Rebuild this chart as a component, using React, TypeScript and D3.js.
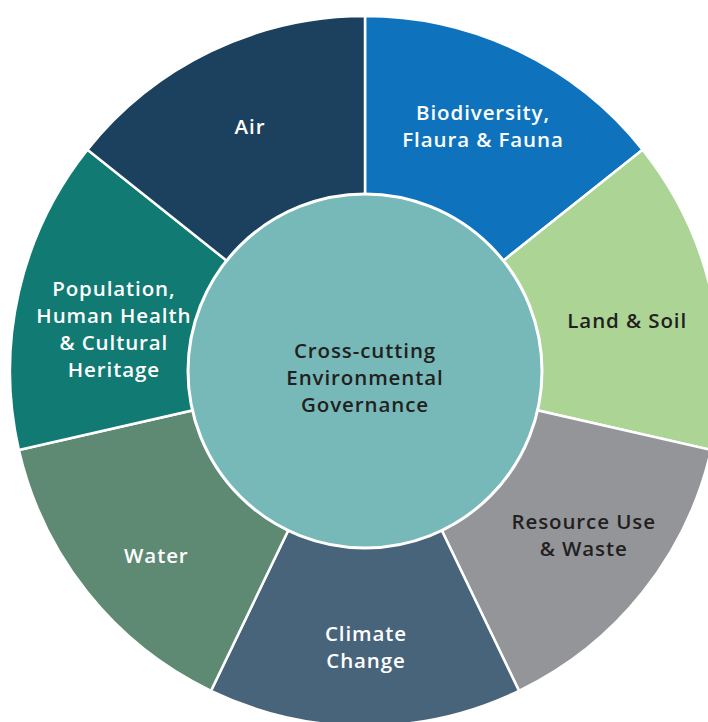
import * as d3 from "d3";

const categories = [
  "Biodiversity,\nFlaura & Fauna",
  "Land & Soil",
  "Resource Use\n& Waste",
  "Climate\nChange",
  "Water",
  "Population,\nHuman Health\n& Cultural\nHeritage",
  "Air",
];
const shares = [1, 1, 1, 1, 1, 1, 1];
const fills = ["#0e73bc", "#acd595", "#939598", "#48647b", "#5e8a74", "#117a73", "#1c415e"];
const textColors = ["#ffffff", "#231f20", "#231f20", "#ffffff", "#ffffff", "#ffffff", "#ffffff"];
const centerLabel = "Cross-cutting\nEnvironmental\nGovernance";

const W = 708;
const H = 722;
const cx = 365;
const cy = 371;
const outerR = 355;
const innerR = 177;
const labelR = 272;
const lineH = 27;
const font = "'Open Sans', sans-serif";
// small hand nudges so labels sit where the original artwork put them
const labelNudge: [number, number][] = [
  [0, 0],
  [-3, 10.5],
  [6, -5],
  [1, 4.5],
  [4, 15],
  [14, 19],
  [3, 1],
];

export default function App() {
  const pie = d3.pie<number>().sort(null).value((d) => d);
  const arcs = pie(shares);
  const arc = d3.arc<d3.PieArcDatum<number>>().innerRadius(0).outerRadius(outerR);
  const labelArc = d3.arc<d3.PieArcDatum<number>>().innerRadius(labelR).outerRadius(labelR);

  const lines = (text: string) => text.split("\n");

  return (
    <svg
      width={W}
      height={H}
      style={{ position: "absolute", left: 0, top: 0, display: "block" }}
    >
      <rect width={W} height={H} fill="#ffffff" />
      <g transform={`translate(${cx},${cy})`}>
        {arcs.map((a, i) => (
          <path key={i} d={arc(a) ?? ""} fill={fills[i]} stroke="#ffffff" strokeWidth={2.5} />
        ))}
        <circle r={innerR} fill="#76b9b8" stroke="#ffffff" strokeWidth={3} />
        {arcs.map((a, i) => {
          const [px, py] = labelArc.centroid(a);
          const x = px + labelNudge[i][0];
          const y = py + labelNudge[i][1];
          const ls = lines(categories[i]);
          const y0 = y - ((ls.length - 1) * lineH) / 2;
          return (
            <text
              key={i}
              x={x}
              textAnchor="middle"
              fill={textColors[i]}
              fontFamily={font}
              fontWeight={600}
              fontSize={20.5}
              letterSpacing={0.9}
            >
              {ls.map((l, j) => (
                <tspan key={j} x={x} y={y0 + j * lineH} dy="0.35em">
                  {l}
                </tspan>
              ))}
            </text>
          );
        })}
        <text
          textAnchor="middle"
          fill="#231f20"
          fontFamily={font}
          fontWeight={600}
          fontSize={20.5}
          letterSpacing={0.9}
        >
          {lines(centerLabel).map((l, j, all) => (
            <tspan key={j} x={0} y={(j - (all.length - 1) / 2) * lineH + 7} dy="0.35em">
              {l}
            </tspan>
          ))}
        </text>
      </g>
    </svg>
  );
}
